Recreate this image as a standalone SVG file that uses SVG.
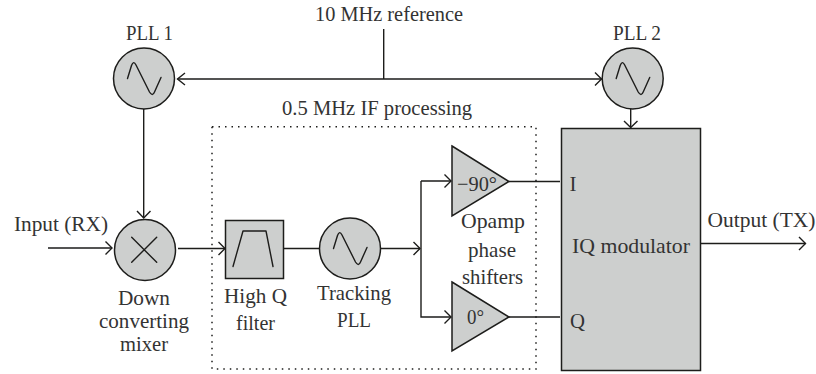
<svg xmlns="http://www.w3.org/2000/svg" width="816" height="374" viewBox="0 0 816 374">
<style>
.n{fill:#cdcfce;stroke:#1d1d1b;stroke-width:1.5}
.g{fill:none;stroke:#1d1d1b;stroke-width:1.4;stroke-linejoin:round;stroke-linecap:round}
.c{fill:none;stroke:#1d1d1b;stroke-width:1.4}
text{font-family:"Liberation Serif","Times New Roman",serif;font-size:21px;fill:#333;text-anchor:middle}
</style>
<defs>
<path id="sine" class="g" d="M-16.500,0 L-12.500,-13 Q-10.500,-18.500 -8,-13.500 L5.500,13.500 Q8.500,18.500 10.500,13.500 L17,-1"/>
</defs>
<rect width="816" height="374" fill="#fff"/>
<g id="connectors">
<path class="c" d="M383.700,29V79M177.500,79H601.500M143.700,109V218M48,248H112M178,248.500H225M283.500,248.500H319M381,248.500H420M421,181V317H451M421,181H451M509,181.500H560M509,317H560M630.700,109V127.500M700.500,243.500H805.500"/>
<path class="c" d="M185,73L177.500,79L185,85M595,72.500L601.500,79L595,85.500M137,211L143.700,218L150.500,211M105.500,241.500L112,248L105.500,254.500M218.500,242L225,248.500L218.500,255M413.500,242L420,248.500L413.500,255M444.500,174.500L451,181L444.500,187.500M444.500,310.500L451,317L444.500,323.500M624,121L630.700,127.500L637.500,121M799,237L805.500,243.500L799,250"/>
</g>
<g id="if-box"><rect x="212" y="126.700" width="324" height="242.300" fill="none" stroke="#1d1d1b" stroke-width="1.500" stroke-dasharray="1.500 5"/></g>
<g id="pll1"><circle class="n" cx="144" cy="78.500" r="30.500"/><use href="#sine" x="144" y="78.500"/><text x="149.500" y="40" textLength="47" lengthAdjust="spacingAndGlyphs">PLL 1</text></g>
<g id="pll2"><circle class="n" cx="632.700" cy="78.500" r="30.500"/><use href="#sine" x="632.700" y="78.500"/><text x="637" y="40" textLength="48" lengthAdjust="spacingAndGlyphs">PLL 2</text></g>
<g id="mixer"><circle class="n" cx="145" cy="250" r="30.500"/><path class="g" d="M131.700,237.300L156.700,262.300M156.700,237.300L131.700,262.300"/><text x="144" y="305" textLength="52" lengthAdjust="spacingAndGlyphs">Down</text><text x="144" y="328" textLength="90" lengthAdjust="spacingAndGlyphs">converting</text><text x="144" y="351" textLength="48" lengthAdjust="spacingAndGlyphs">mixer</text></g>
<g id="filter"><rect class="n" x="225.500" y="220.500" width="58" height="58"/><path class="g" d="M233,266.500L243,231H266L273,266.500"/><text x="255.500" y="303" textLength="63" lengthAdjust="spacingAndGlyphs">High Q</text><text x="255.500" y="330" textLength="39" lengthAdjust="spacingAndGlyphs">filter</text></g>
<g id="tracking"><circle class="n" cx="350" cy="248.500" r="30.500"/><use href="#sine" x="350" y="248.500"/><text x="354" y="300" textLength="74" lengthAdjust="spacingAndGlyphs">Tracking</text><text x="354" y="327" textLength="34" lengthAdjust="spacingAndGlyphs">PLL</text></g>
<g id="shifter90"><path class="n" d="M452,146L509,181.500L452,216Z"/><text x="477" y="191" textLength="40" lengthAdjust="spacingAndGlyphs">−90°</text></g>
<g id="shifter0"><path class="n" d="M452,282L509,317L452,351Z"/><text x="475.500" y="324" textLength="17" lengthAdjust="spacingAndGlyphs">0°</text></g>
<g id="phase-label"><text x="493" y="228" textLength="64" lengthAdjust="spacingAndGlyphs">Opamp</text><text x="492" y="257" textLength="48" lengthAdjust="spacingAndGlyphs">phase</text><text x="492.500" y="284" textLength="61" lengthAdjust="spacingAndGlyphs">shifters</text></g>
<g id="modulator"><rect class="n" x="561.500" y="128.500" width="139" height="242"/><text x="573" y="191" textLength="7" lengthAdjust="spacingAndGlyphs">I</text><text x="577.500" y="328" textLength="15" lengthAdjust="spacingAndGlyphs">Q</text><text x="631" y="253" textLength="118" lengthAdjust="spacingAndGlyphs">IQ modulator</text></g>
<g id="labels"><text x="389" y="21" textLength="148" lengthAdjust="spacingAndGlyphs">10 MHz reference</text><text x="377" y="115" textLength="190" lengthAdjust="spacingAndGlyphs">0.5 MHz IF processing</text><text x="61" y="231" textLength="94" lengthAdjust="spacingAndGlyphs">Input (RX)</text><text x="761.500" y="227" textLength="108" lengthAdjust="spacingAndGlyphs">Output (TX)</text></g>
</svg>
